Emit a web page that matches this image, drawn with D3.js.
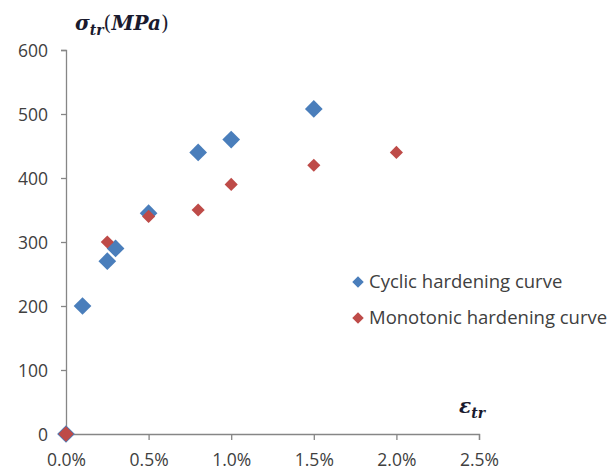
<!DOCTYPE html>
<html>
<head>
<meta charset="utf-8">
<script src="https://cdn.jsdelivr.net/npm/d3@7"></script>
<style>
  body { margin: 0; background: #fff; }
</style>
</head>
<body>
<svg id="chart" width="611" height="475"></svg>
<script>
// strain values are in percent
const cyclicStrain = [0, 0.1, 0.25, 0.3, 0.5, 0.8, 1.0, 1.5];
const cyclicStress = [0, 200, 270, 290, 345, 440, 460, 508];
const monoStrain = [0, 0.25, 0.5, 0.8, 1.0, 1.5, 2.0];
const monoStress = [0, 300, 340, 350, 390, 420, 440];
const xTicks = [0, 0.5, 1.0, 1.5, 2.0, 2.5];
const yTicks = [0, 100, 200, 300, 400, 500, 600];
const seriesNames = ["Cyclic hardening curve", "Monotonic hardening curve"];

const svg = d3.select("#chart");
const axisColor = "#868686";
const textColor = "#404040";
const blue = "#4a7ebb", red = "#be4b48";
const font = "'Open Sans', sans-serif";

const x = d3.scaleLinear().domain([0, 2.5]).range([66, 479]);
const y = d3.scaleLinear().domain([0, 600]).range([434, 50]);

// y axis
const yAxis = svg.append("g")
    .attr("transform", "translate(66,0)")
    .call(d3.axisLeft(y).tickValues(yTicks).tickSize(5).tickPadding(13).tickFormat(d3.format("d")));

// x axis
const xAxis = svg.append("g")
    .attr("transform", "translate(0,434)")
    .call(d3.axisBottom(x).tickValues(xTicks).tickSize(6).tickPadding(14).tickFormat(d => d.toFixed(1) + "%"));

[xAxis, yAxis].forEach(a => {
    a.select(".domain").attr("stroke", axisColor).attr("stroke-width", 1.3);
    a.selectAll(".tick line").attr("stroke", axisColor).attr("stroke-width", 1.3);
    a.selectAll(".tick text")
        .attr("fill", textColor)
        .style("font-family", font)
        .style("font-size", "17.5px");
});
yAxis.selectAll(".tick text").attr("dy", "0.35em");

const diamond = s => d3.symbol().type(d3.symbolDiamond2).size(s)();

// cyclic points
svg.append("g").selectAll("path")
    .data(cyclicStrain.map((d, i) => [d, cyclicStress[i]]))
    .enter().append("path")
    .attr("d", diamond(200))
    .attr("transform", d => `translate(${x(d[0])},${y(d[1])})`)
    .attr("fill", blue);

// monotonic points
svg.append("g").selectAll("path")
    .data(monoStrain.map((d, i) => [d, monoStress[i]]))
    .enter().append("path")
    .attr("d", (d, i) => diamond(i === 0 ? 150 : 110))
    .attr("transform", d => `translate(${x(d[0])},${y(d[1])})`)
    .attr("fill", red);

// axis titles
const title = svg.append("text")
    .attr("x", 75).attr("y", 30)
    .attr("fill", "#1a1a2e")
    .style("font-family", "'DejaVu Serif', serif")
    .style("font-weight", "bold")
    .style("font-size", "20px");
title.append("tspan").style("font-style", "italic").text("σ");
title.append("tspan").attr("dy", 5).style("font-size", "14px").style("font-style", "italic").text("tr");
title.append("tspan").attr("dy", -5).style("font-weight", "normal").text("(");
title.append("tspan").style("font-style", "italic").text("MPa");
title.append("tspan").style("font-weight", "normal").text(")");

const xt = svg.append("text")
    .attr("x", 459).attr("y", 413)
    .attr("fill", "#1a1a2e")
    .style("font-family", "'DejaVu Serif', serif")
    .style("font-weight", "bold")
    .style("font-style", "italic")
    .style("font-size", "20px");
xt.append("tspan").text("ε");
xt.append("tspan").attr("dy", 5).style("font-size", "14px").text("tr");

// legend
const legend = svg.append("g").selectAll("g")
    .data(seriesNames)
    .enter().append("g")
    .attr("transform", (d, i) => `translate(358,${282 + i * 36})`);
legend.append("path")
    .attr("d", diamond(85))
    .attr("fill", (d, i) => i === 0 ? blue : red);
legend.append("text")
    .attr("x", 11).attr("dy", "0.35em")
    .attr("fill", textColor)
    .style("font-family", font)
    .style("font-size", "18.5px")
    .text(d => d);
</script>
</body>
</html>
